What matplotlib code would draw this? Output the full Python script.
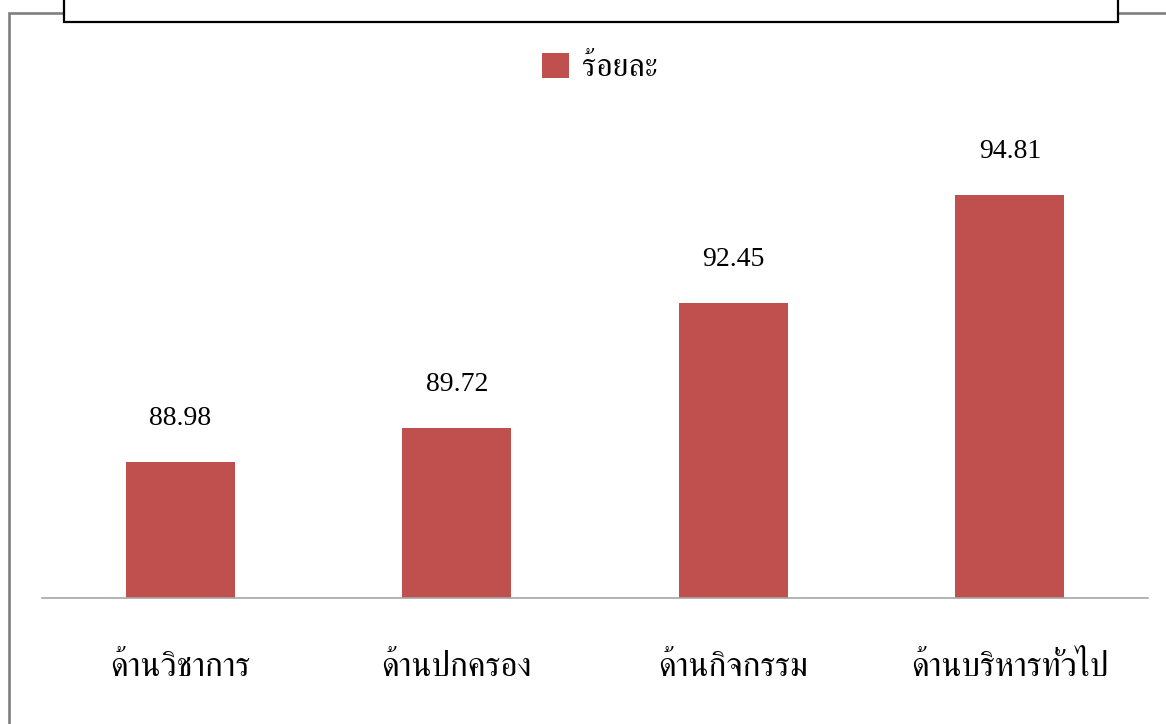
import matplotlib
matplotlib.use("Agg")
import matplotlib.pyplot as plt
from matplotlib.patches import Rectangle

categories = ["ด้านวิชาการ", "ด้านปกครอง", "ด้านกิจกรรม", "ด้านบริหารทั่วไป"]
values = [88.98, 89.72, 92.45, 94.81]
series_name = "ร้อยละ"

plt.rcParams["font.family"] = ["Liberation Serif", "FreeSerif", "Noto Serif Thai", "DejaVu Sans"]

W, H = 1166, 724
fig = plt.figure(figsize=(W / 100, H / 100), dpi=100)

# outer chart frame (grey), cut off at the right and bottom
fig.add_artist(Rectangle((9 / W, -0.2), 1.5, 1.2 - 13 / H,
                         transform=fig.transFigure, fill=False,
                         edgecolor="#7f7f7f", lw=1.9))
# title box, cut off at the top
fig.add_artist(Rectangle((64 / W, 1 - 22 / H), (1118 - 64) / W, 0.3,
                         transform=fig.transFigure, facecolor="white",
                         edgecolor="black", lw=1.6, zorder=5))

ax = fig.add_axes([42 / W, (H - 598) / H, 1106 / W, 458 / H])
x = list(range(len(categories)))
bars = ax.bar(x, values, width=0.395, color="#C0504D", label=series_name)
ax.set_xlim(-0.5, 3.5)
ax.set_ylim(86, 96)

for s in ["top", "left", "right"]:
    ax.spines[s].set_visible(False)
ax.spines["bottom"].set_color("#a6a6a6")
ax.spines["bottom"].set_linewidth(1.2)
ax.set_yticks([])
ax.set_xticks(x)
ax.set_xticklabels(categories, fontsize=24)
ax.tick_params(axis="x", length=0, pad=39)

for b, v in zip(bars, values):
    ax.annotate(f"{v:.2f}", (b.get_x() + b.get_width() / 2, v),
                xytext=(0, 31), textcoords="offset points",
                ha="center", va="center", fontsize=20)

fig.legend(handles=[bars], labels=[series_name], loc="center",
           bbox_to_anchor=(600 / W, 1 - 68 / H), frameon=False,
           fontsize=23, handlelength=0.85, handleheight=0.85,
           handletextpad=0.4)

fig.savefig("out.png", dpi=100)
